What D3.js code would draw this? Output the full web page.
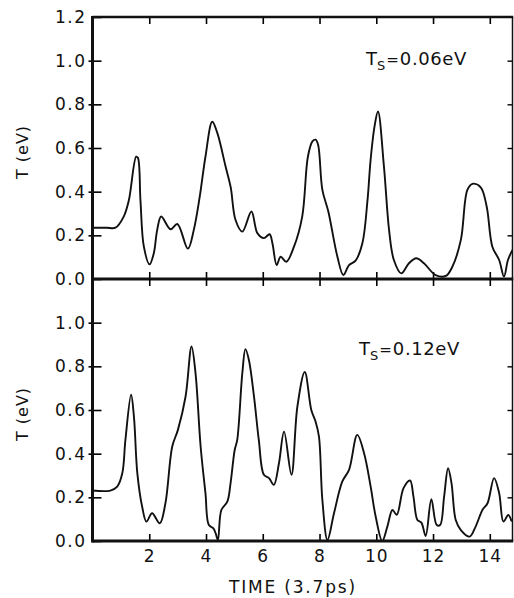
<!DOCTYPE html>
<html>
<head>
<meta charset="utf-8">
<script src="https://cdn.jsdelivr.net/npm/d3@7"></script>
<style>
  body { margin: 0; background: #fff; }
  svg { display: block; }
  text { font-family: "DejaVu Sans", sans-serif; fill: #111; }
</style>
</head>
<body>
<svg class="chart" width="514" height="598"></svg>
<script>
// top panel, Ts = 0.06 eV
const timeTop = [0, 0.5, 0.81, 1.10, 1.28, 1.54, 1.60, 1.69, 1.81, 2.01, 2.16, 2.28, 2.42, 2.75, 2.99, 3.36, 3.57, 3.78, 3.98, 4.22, 4.40,
    4.69, 4.87, 5.04, 5.28, 5.60, 5.81, 6.04, 6.24, 6.34, 6.49, 6.63, 6.83, 7.10, 7.39, 7.59, 7.75, 7.86, 7.95, 8.10, 8.31,
    8.63, 8.84, 9.04, 9.27, 9.51, 9.69, 9.80, 9.94, 10.06, 10.27, 10.45, 10.62, 10.88, 11.15, 11.41, 11.68, 12.09, 12.45, 12.68, 12.98,
    13.21, 13.39, 13.68, 13.89, 14.09, 14.33, 14.50, 14.64, 14.8];
const tempTop = [0.235, 0.235, 0.235, 0.286, 0.36, 0.56, 0.555, 0.36, 0.148, 0.067, 0.118, 0.225, 0.286, 0.228, 0.252, 0.139, 0.225, 0.378, 0.56, 0.72, 0.668,
    0.515, 0.42, 0.27, 0.217, 0.309, 0.21, 0.187, 0.205, 0.164, 0.064, 0.102, 0.079, 0.148, 0.286, 0.56, 0.63, 0.638, 0.615, 0.408, 0.309,
    0.102, 0.018, 0.064, 0.084, 0.164, 0.36, 0.546, 0.70, 0.767, 0.515, 0.225, 0.087, 0.026, 0.072, 0.095, 0.072, 0.018, 0.014, 0.056, 0.179,
    0.408, 0.436, 0.42, 0.332, 0.148, 0.087, 0.011, 0.087, 0.133];

// bottom panel, Ts = 0.12 eV
const timeBot = [0, 0.63, 0.87, 1.05, 1.16, 1.36, 1.46, 1.58, 1.75, 1.90, 2.10, 2.37, 2.57, 2.81, 3.01, 3.28, 3.49, 3.63, 3.81, 3.98,
    4.10, 4.26, 4.34, 4.42, 4.54, 4.75, 4.87, 5.01, 5.10, 5.28, 5.39, 5.51, 5.69, 5.86, 6.04, 6.22, 6.39, 6.57, 6.75, 7.01,
    7.22, 7.48, 7.71, 7.86, 7.98, 8.10, 8.28, 8.51, 8.80, 9.04, 9.33, 9.57, 9.80, 9.98, 10.21, 10.39, 10.57, 10.72, 10.96, 11.19,
    11.31, 11.45, 11.59, 11.74, 11.94, 12.13, 12.25, 12.39, 12.53, 12.65, 12.80, 12.98, 13.29, 13.5, 13.74, 13.92, 14.15, 14.33, 14.48, 14.65, 14.77];
const tempBot = [0.231, 0.231, 0.249, 0.31, 0.463, 0.67, 0.57, 0.31, 0.157, 0.089, 0.127, 0.081, 0.173, 0.433, 0.509, 0.662, 0.891, 0.769, 0.433, 0.219,
    0.073, 0.058, 0.035, 0.005, 0.142, 0.18, 0.27, 0.417, 0.463, 0.77, 0.879, 0.83, 0.662, 0.463, 0.303, 0.288, 0.257, 0.356, 0.501, 0.303,
    0.616, 0.774, 0.60, 0.547, 0.478, 0.188, 0.005, 0.127, 0.272, 0.326, 0.486, 0.402, 0.25, 0.111, 0.0, 0.066, 0.142, 0.12, 0.242, 0.277,
    0.203, 0.096, 0.084, 0.023, 0.191, 0.073, 0.073, 0.203, 0.333, 0.265, 0.096, 0.05, 0.02, 0.066, 0.142, 0.173, 0.288, 0.219, 0.089, 0.119, 0.089];

const xTicks = [2, 4, 6, 8, 10, 12, 14];
const yTicksTop = [0, 0.2, 0.4, 0.6, 0.8, 1.0, 1.2];
const yTicksBot = [0, 0.2, 0.4, 0.6, 0.8, 1.0];
const yInner = [0.2, 0.4, 0.6, 0.8, 1.0];

const svg = d3.select(".chart");
const left = 92.5, right = 512.5;

let x = d3.scaleLinear().domain([0, 14.8]).range([left, right]);

const panels = [
    {time: timeTop, temp: tempTop, top: 17, bottom: 279, ticks: yTicksTop, label: "0.06eV", lx: 366, ly: 65},
    {time: timeBot, temp: tempBot, top: 279, bottom: 541, ticks: yTicksBot, label: "0.12eV", lx: 359, ly: 355}
];

panels.forEach(function(p, i) {
    let y = d3.scaleLinear().domain([0, 1.2]).range([p.bottom, p.top]);
    let g = svg.append("g");

    svg.append("clipPath").attr("id", "clip" + i)
        .append("rect")
        .attr("x", left).attr("y", p.top)
        .attr("width", right - left).attr("height", p.bottom - p.top);

    // inward ticks, left
    g.append("g")
        .attr("transform", "translate(" + left + ",0)")
        .call(d3.axisLeft(y).tickValues(p.ticks).tickSize(-9).tickPadding(10)
            .tickFormat(d3.format(".1f")))
        .call(s => s.select(".domain").remove())
        .call(s => s.selectAll("line").attr("stroke-width", 1.6))
        .call(s => s.selectAll("text").attr("font-size", 17).attr("letter-spacing", 1.5)
            .attr("x", -6).attr("fill", "#111"));
    // short outward ticks, left
    g.append("g")
        .attr("transform", "translate(" + left + ",0)")
        .call(d3.axisLeft(y).tickValues(yInner).tickSize(4).tickFormat(""))
        .call(s => s.select(".domain").remove())
        .call(s => s.selectAll("line").attr("stroke-width", 1.6));
    // right ticks
    g.append("g")
        .attr("transform", "translate(" + right + ",0)")
        .call(d3.axisRight(y).tickValues(yInner).tickSize(-5).tickFormat(""))
        .call(s => s.select(".domain").remove())
        .call(s => s.selectAll("line").attr("stroke-width", 1.4));
    // top and bottom ticks
    g.append("g")
        .attr("transform", "translate(0," + p.top + ")")
        .call(d3.axisTop(x).tickValues(xTicks).tickSize(-7).tickFormat(""))
        .call(s => s.select(".domain").remove())
        .call(s => s.selectAll("line").attr("stroke-width", 1.6));
    g.append("g")
        .attr("transform", "translate(0," + p.bottom + ")")
        .call(d3.axisBottom(x).tickValues(xTicks).tickSize(-7).tickFormat(""))
        .call(s => s.select(".domain").remove())
        .call(s => s.selectAll("line").attr("stroke-width", 1.6));

    const line = d3.line()
        .x(d => x(d[0]))
        .y(d => y(d[1]))
        .curve(d3.curveCatmullRom.alpha(0.5));

    g.append("path")
        .datum(d3.zip(p.time, p.temp))
        .attr("clip-path", "url(#clip" + i + ")")
        .attr("fill", "none")
        .attr("stroke", "#111")
        .attr("stroke-width", 1.9)
        .attr("stroke-linejoin", "round")
        .attr("d", line);

    // frame
    g.append("line").attr("x1", right).attr("x2", right).attr("y1", p.top).attr("y2", p.bottom)
        .attr("stroke", "#111").attr("stroke-width", 1.5);
    g.append("line").attr("x1", left).attr("x2", right + 0.75).attr("y1", p.bottom).attr("y2", p.bottom)
        .attr("stroke", "#111").attr("stroke-width", 3);

    // annotation
    let t = g.append("text")
        .attr("x", p.lx).attr("y", p.ly)
        .attr("font-size", 18);
    t.append("tspan").text("T");
    t.append("tspan").attr("dy", 5).attr("font-size", 13).text("S");
    t.append("tspan").attr("dy", -5).attr("dx", 1).attr("font-size", 15).text("=");
    t.append("tspan").attr("dx", 1).attr("letter-spacing", 0.6).text(p.label);

    svg.append("text")
        .attr("transform", "translate(28," + ((p.top + p.bottom) / 2 + 4) + ") rotate(-90)")
        .attr("text-anchor", "middle")
        .attr("font-size", 16)
        .attr("letter-spacing", 1)
        .text("T (eV)");
});

// top border and left axis
svg.append("line").attr("x1", left).attr("x2", right + 0.75).attr("y1", 17).attr("y2", 17)
    .attr("stroke", "#111").attr("stroke-width", 2.5);
svg.append("line").attr("x1", left).attr("x2", left).attr("y1", 16).attr("y2", 542.5)
    .attr("stroke", "#111").attr("stroke-width", 3);

// x tick labels
svg.append("g")
    .attr("transform", "translate(0,541)")
    .call(d3.axisBottom(x).tickValues(xTicks).tickSize(0).tickPadding(9))
    .call(s => s.select(".domain").remove())
    .call(s => s.selectAll("text").attr("font-size", 17).attr("letter-spacing", 1).attr("fill", "#111"));

svg.append("text")
    .attr("x", 293).attr("y", 593)
    .attr("text-anchor", "middle")
    .attr("font-size", 17)
    .attr("letter-spacing", 1.8)
    .text("TIME (3.7ps)");
</script>
</body>
</html>
